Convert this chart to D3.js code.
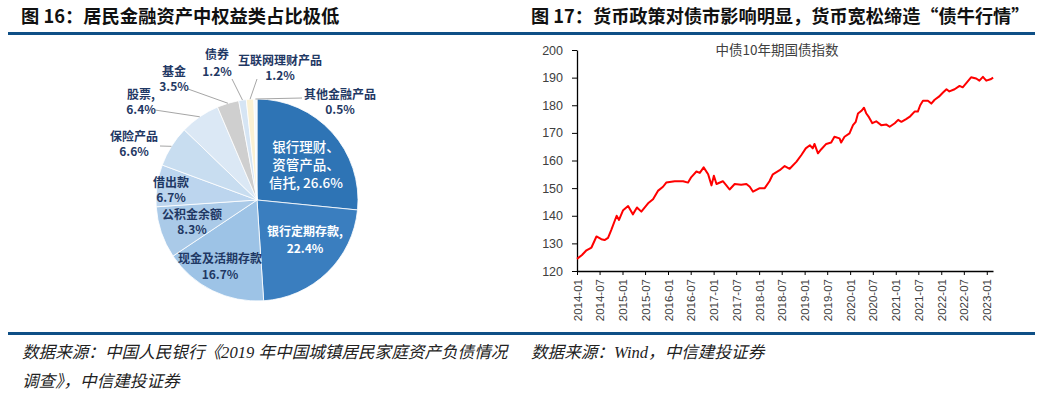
<!DOCTYPE html>
<html>
<head>
<meta charset="utf-8">
<script src="https://cdn.jsdelivr.net/npm/d3@7"></script>
<style>
  body { margin: 0; background: #fff; }
  svg { display: block; font-family: "Noto Sans CJK SC", "Noto Sans", sans-serif; }
</style>
</head>
<body>
<div id="svg-container"></div>
<script>
////////////////////////////////////////////////////////////////////
////////////////////////////  Data  ////////////////////////////////
// left: household financial assets (%)
const pieNames = ["银行理财、资管产品、信托", "银行定期存款", "现金及活期存款", "公积金余额", "借出款",
  "保险产品", "股票", "基金", "债券", "互联网理财产品", "其他金融产品"];
const pieValues = [26.6, 22.4, 16.7, 8.3, 6.7, 6.6, 6.4, 3.5, 1.2, 1.2, 0.5];
const pieLabels = [
  ["银行理财、", "资管产品、", "信托, 26.6%"],
  ["银行定期存款,", "22.4%"],
  ["现金及活期存款", "16.7%"],
  ["公积金余额", "8.3%"],
  ["借出款", "6.7%"],
  ["保险产品", "6.6%"],
  ["股票,", "6.4%"],
  ["基金", "3.5%"],
  ["债券", "1.2%"],
  ["互联网理财产品", "1.2%"],
  ["其他金融产品", "0.5%"]
];

// right: 中债10年期国债指数
const indexDates = [
  "2014-01-01", "2014-02-10", "2014-03-18", "2014-04-27", "2014-06-06", "2014-07-15", "2014-08-10",
  "2014-09-07", "2014-10-04", "2014-11-15", "2014-12-04", "2015-01-06", "2015-02-15", "2015-03-25",
  "2015-04-27", "2015-06-01", "2015-07-25", "2015-09-03", "2015-10-12", "2015-11-22", "2015-12-18",
  "2016-02-24", "2016-05-01", "2016-06-10", "2016-07-06", "2016-08-16", "2016-09-12", "2016-10-13",
  "2016-11-18", "2016-12-15", "2017-01-03", "2017-01-24", "2017-03-16", "2017-04-13", "2017-05-09",
  "2017-06-19", "2017-08-10", "2017-09-21", "2017-10-18", "2017-11-13", "2018-01-06", "2018-02-15",
  "2018-03-25", "2018-04-21", "2018-06-15", "2018-07-25", "2018-09-03", "2018-10-28", "2018-12-06",
  "2019-01-10", "2019-02-12", "2019-03-07", "2019-03-21", "2019-04-18", "2019-05-13", "2019-06-23",
  "2019-08-02", "2019-08-28", "2019-10-08", "2019-10-21", "2019-11-17", "2019-12-27", "2020-01-24",
  "2020-02-15", "2020-03-04", "2020-04-01", "2020-04-21", "2020-05-10", "2020-06-01", "2020-06-27",
  "2020-07-28", "2020-09-06", "2020-10-18", "2020-11-13", "2020-12-24", "2021-01-20", "2021-02-15",
  "2021-03-25", "2021-04-27", "2021-06-01", "2021-06-27", "2021-07-16", "2021-08-07", "2021-09-16",
  "2021-10-13", "2021-11-09", "2021-12-13", "2022-01-15", "2022-02-12", "2022-03-07", "2022-04-18",
  "2022-05-28", "2022-06-22", "2022-07-24", "2022-08-28", "2022-10-08", "2022-11-03", "2022-12-01",
  "2022-12-28", "2023-01-31", "2023-02-21"
];
const indexValues = [
  124.4, 125.8, 127.5, 128.5, 132.5, 131.5, 131.2,
  132.0, 135.0, 140.0, 138.5, 142.0, 143.5, 140.5,
  143.0, 141.5, 144.5, 146.0, 149.0, 150.5, 152.0,
  152.5, 152.5, 152.0, 154.0, 156.0, 155.5, 157.5,
  155.0, 151.0, 154.5, 151.5, 152.5, 151.0, 149.5,
  151.5, 151.2, 151.5, 150.5, 148.7, 150.0, 150.0,
  152.5, 155.0, 156.5, 158.0, 157.0, 159.6, 162.0,
  164.4, 165.5, 164.4, 166.0, 162.6, 164.0, 166.0,
  166.5, 168.6, 168.0, 166.5, 168.6, 169.8, 172.8,
  174.0, 177.0, 178.0, 179.1, 177.0, 175.6, 173.5,
  174.2, 172.8, 173.0, 172.2, 173.5, 174.7, 174.0,
  175.0, 176.0, 177.7, 177.7, 180.0, 181.6, 181.6,
  180.6, 182.0, 183.1, 184.6, 185.8, 185.0, 185.8,
  187.0, 186.5, 188.2, 190.1, 189.7, 188.9, 190.3,
  188.9, 189.4, 190.0
];
const yTicks = [120, 130, 140, 150, 160, 170, 180, 190, 200];

////////////////////////////////////////////////////////////////////
////////////////////////////  Init  ////////////////////////////////
const width = 1043, height = 394;
const svg = d3.select("#svg-container").append("svg")
  .attr("width", width).attr("height", height);

const navy = "#1f3864";
const ruleColor = "#0e4f86";

// titles
svg.append("text").attr("x", 21).attr("y", 23)
  .attr("font-size", 18.3).attr("font-weight", "bold").attr("fill", "#111")
  .text("图 16：居民金融资产中权益类占比极低");
svg.append("text").attr("x", 531).attr("y", 23)
  .attr("font-size", 18.2).attr("font-weight", "bold").attr("fill", "#111")
  .text("图 17：货币政策对债市影响明显，货币宽松缔造“债牛行情”");

// rules
svg.append("rect").attr("x", 8).attr("y", 32).attr("width", 1027).attr("height", 3).attr("fill", ruleColor);
svg.append("rect").attr("x", 8).attr("y", 332).attr("width", 1027).attr("height", 3).attr("fill", ruleColor);

// footer
const foot = svg.append("g")
  .attr("font-family", "'Liberation Serif', 'Noto Sans CJK SC', serif")
  .attr("font-style", "italic").attr("font-size", 16.6).attr("fill", "#222");
foot.append("text").attr("x", 22).attr("y", 358).text("数据来源：中国人民银行《2019 年中国城镇居民家庭资产负债情况");
foot.append("text").attr("x", 22).attr("y", 387).text("调查》，中信建投证券");
foot.append("text").attr("x", 531).attr("y", 358).text("数据来源：Wind，中信建投证券");

////////////////////////////////////////////////////////////////////
////////////////////////////  Pie  /////////////////////////////////
const cx = 257, cy = 200, radius = 101;
const pieColors = ["#2e74b5", "#3a7ebf", "#9dc3e6", "#aacae8", "#bcd5ee", "#c8ddf0",
  "#dbe8f5", "#cfcfcf", "#d6e5f4", "#fbf1d3", "#f4f8fc"];

const pie = d3.pie().sort(null).value((d) => d);
const arcs = pie(pieValues);
const arc = d3.arc().innerRadius(0).outerRadius(radius);

const gPie = svg.append("g").attr("transform", `translate(${cx},${cy})`);
gPie.selectAll("path").data(arcs).join("path")
  .attr("d", arc)
  .attr("fill", (d, i) => pieColors[i])
  .attr("stroke", "#fff").attr("stroke-width", 0.8);

// label layout: first line centre relative to pie centre, line gap, size, colour
const labelLayout = [
  { x: 49, y: -53, gap: 18, size: 13.5, color: "#fff", weight: 500 },
  { x: 48, y: 32, gap: 16.5, size: 12, color: "#fff", weight: "bold" },
  { x: -37, y: 59, gap: 16, size: 12, color: navy, weight: "bold" },
  { x: -65, y: 15, gap: 14.5, size: 12, color: navy, weight: "bold" },
  { x: -86, y: -17, gap: 15, size: 12, color: navy, weight: "bold" },
  { x: -123, y: -63, gap: 14.5, size: 12, color: navy, weight: "bold", lx: -97, ly: -54 },
  { x: -116, y: -105, gap: 15, size: 12, color: navy, weight: "bold", lx: -102, ly: -90 },
  { x: -83, y: -128, gap: 14.5, size: 12, color: navy, weight: "bold", lx: -69, ly: -111 },
  { x: -40, y: -145, gap: 16.5, size: 12, color: navy, weight: "bold", lx: -25, ly: -121 },
  { x: 23, y: -139, gap: 14.5, size: 12, color: navy, weight: "bold", lx: 0, ly: -121 },
  { x: 83, y: -105, gap: 15, size: 12, color: navy, weight: "bold", lx: 45, ly: -102 }
];

// leader lines from slice edge at mid angle
arcs.forEach((d, i) => {
  const l = labelLayout[i];
  if (l.lx === undefined) return;
  const a = (d.startAngle + d.endAngle) / 2;
  gPie.append("line")
    .attr("x1", radius * Math.sin(a)).attr("y1", -radius * Math.cos(a))
    .attr("x2", l.lx).attr("y2", l.ly)
    .attr("stroke", "#a6a6a6").attr("stroke-width", 1);
});

pieLabels.forEach((lines, i) => {
  const l = labelLayout[i];
  const t = gPie.append("text")
    .attr("text-anchor", "middle")
    .attr("font-size", l.size).attr("font-weight", l.weight).attr("fill", l.color);
  lines.forEach((s, j) => {
    t.append("tspan").attr("x", l.x).attr("y", l.y + j * l.gap + l.size * 0.36).text(s);
  });
});

////////////////////////////////////////////////////////////////////
////////////////////////////  Line  ////////////////////////////////
const parse = d3.timeParse("%Y-%m-%d");
const lineData = indexDates.map((d, i) => ({ date: parse(d), value: indexValues[i] }));

const xScale = d3.scaleTime()
  .domain([parse("2014-01-01"), parse("2023-02-20")])
  .range([577, 993]);
const yScale = d3.scaleLinear().domain([120, 200]).range([271, 50]);

const xTicks = d3.timeMonth.every(6).range(parse("2014-01-01"), parse("2023-01-02"));

const xAxis = d3.axisBottom(xScale)
  .tickValues(xTicks)
  .tickFormat(d3.timeFormat("%Y-%m"))
  .tickSize(4).tickSizeOuter(0);
const yAxis = d3.axisLeft(yScale)
  .tickValues(yTicks)
  .tickSize(5).tickPadding(9).tickSizeOuter(0);

const gx = svg.append("g").attr("transform", `translate(0,${yScale(120)})`).call(xAxis);
gx.selectAll("text")
  .attr("transform", "rotate(-90)")
  .attr("text-anchor", "end")
  .attr("x", -8).attr("y", 0).attr("dy", "0.35em")
  .attr("font-size", 11.5).attr("fill", "#404040")
  .attr("font-family", "'Liberation Sans', 'DejaVu Sans', sans-serif");

const gy = svg.append("g").attr("transform", `translate(${xScale.range()[0]},0)`).call(yAxis);
gy.selectAll("text")
  .attr("font-size", 12.5).attr("fill", "#404040")
  .attr("font-family", "'Liberation Sans', 'DejaVu Sans', sans-serif");

[gx, gy].forEach((g) => {
  g.select(".domain").attr("stroke", "#000").attr("stroke-width", 1.3);
  g.selectAll(".tick line").attr("stroke", "#000").attr("stroke-width", 1);
});

const line = d3.line()
  .x((d) => xScale(d.date))
  .y((d) => yScale(d.value));

svg.append("path")
  .datum(lineData)
  .attr("fill", "none")
  .attr("stroke", "#ff0000")
  .attr("stroke-width", 2)
  .attr("stroke-linejoin", "round")
  .attr("d", line);

svg.append("text")
  .attr("x", 777).attr("y", 55)
  .attr("text-anchor", "middle")
  .attr("font-size", 13.5).attr("fill", "#404040")
  .text("中债10年期国债指数");
</script>
</body>
</html>
